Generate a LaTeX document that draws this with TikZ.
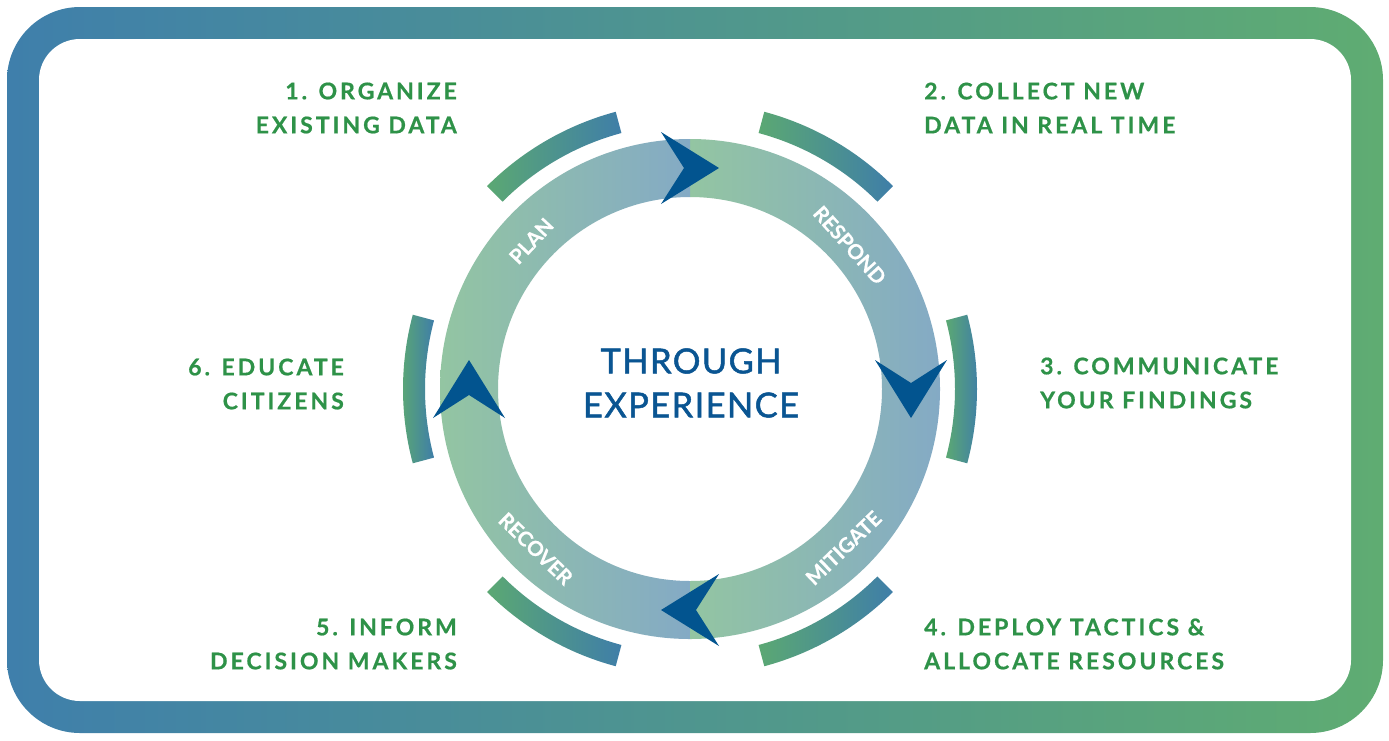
\documentclass[tikz,border=0pt]{standalone}
\usepackage{fontspec}
\setmainfont{Lato}
\newfontfamily\lblfam[LetterSpace=13, BoldFeatures={FakeBold=0.6}]{Lato}
\newfontfamily\ctrfam[LetterSpace=4, FakeBold=1.4]{Lato}
\newfontfamily\ringfam[BoldFeatures={FakeBold=0.5}]{Lato}
\newcommand\lblfont{\lblfam\bfseries\fontsize{23}{34}\selectfont}
\newcommand\ctrfont{\ctrfam\fontsize{34.5}{44}\selectfont}
\newcommand\ringfont{\ringfam\bfseries\fontsize{20.5}{22}\selectfont}
\definecolor{frameB}{HTML}{3F7FAB}
\definecolor{frameG}{HTML}{5FAC72}
\definecolor{ringG}{HTML}{93C5A2}
\definecolor{ringB}{HTML}{84AAC5}
\definecolor{arcG}{HTML}{5BA873}
\definecolor{arcB}{HTML}{3F7EA8}
\definecolor{arrowblue}{HTML}{02548F}
\definecolor{lblgreen}{HTML}{2E9248}
\definecolor{ctrblue}{HTML}{0A5592}
\tikzset{
  lbl/.style={font=\lblfont, text=lblgreen, inner sep=0pt},
  ringtxt/.style={font=\ringfont, text=white, inner sep=0pt},
  ctrtxt/.style={font=\ctrfont, text=ctrblue, inner sep=0pt, align=center},
  arrowhd/.style={fill=arrowblue},
  ringseg/.style={left color=ringG, right color=ringB},
  outerarc/.style={left color=arcG, right color=arcB},
  framebox/.style={left color=frameB, right color=frameG},
}
\begin{document}
\begin{tikzpicture}[x=1pt,y=1pt]
\useasboundingbox (0,0) rectangle (1389,-740);
% frame
\path[framebox, rounded corners=73pt] (7,-7) rectangle (1383,-733);
\fill[white, rounded corners=41pt] (39,-39) rectangle (1351,-701);
% cycle
\begin{scope}[shift={(690,-389)}]
  \foreach \a in {0,90,180,270}{
    \path[ringseg] (\a:250) arc[start angle=\a, end angle=\a+90, radius=250]
      -- (\a+90:192) arc[start angle=\a+90, end angle=\a, radius=192] -- cycle;
  }
  \foreach \c in {0,60,120,180,240,300}{
    \path[outerarc] (\c-15:287) arc[start angle=\c-15, end angle=\c+15, radius=287]
      -- (\c+15:265) arc[start angle=\c+15, end angle=\c-15, radius=265] -- cycle;
  }
  \foreach \t in {0,90,180,270}{
    \begin{scope}[shift={(\t:221)}, rotate=\t-90]
      \fill[arrowhd] (29,0) -- (-29,36) -- (-6,0) -- (-29,-36) -- cycle;
    \end{scope}
  }
  \node[ringtxt, rotate=47] (plan) at (137:217) {PLAN};
  \node[ringtxt, rotate=-48] (respond) at (42:215) {RESPOND};
  \node[ringtxt, rotate=44] (mitigate) at (-46:221) {MITIGATE};
  \node[ringtxt, rotate=-44] (recover) at (-134:222) {RECOVER};
\end{scope}
\node[ctrtxt] (center) at (691,-383) {THROUGH\\EXPERIENCE};
% labels
\node[lbl, anchor=east, align=right] (l1) at (457,-108) {1. ORGANIZE\\EXISTING DATA};
\node[lbl, anchor=west, align=left] (l2) at (924,-108) {2. COLLECT NEW\\DATA IN REAL TIME};
\node[lbl, anchor=west, align=left] (l3) at (1040,-383) {3. COMMUNICATE\\YOUR FINDINGS};
\node[lbl, anchor=west, align=left] (l4) at (924,-644) {4. DEPLOY TACTICS \&\\ALLOCATE RESOURCES};
\node[lbl, anchor=east, align=right] (l5) at (457,-644) {5. INFORM\\DECISION MAKERS};
\node[lbl, anchor=east, align=right] (l6) at (344,-384) {6. EDUCATE\\CITIZENS};
\end{tikzpicture}
\end{document}
